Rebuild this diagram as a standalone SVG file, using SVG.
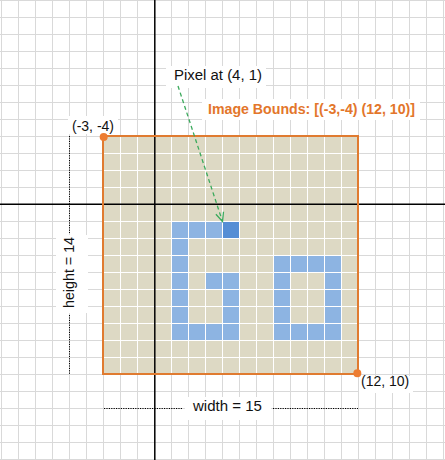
<svg xmlns="http://www.w3.org/2000/svg" width="445" height="460" viewBox="0 0 445 460">
<style>
.lbl{font-family:"Liberation Sans",Arial,sans-serif;font-size:14px;fill:#111}
.ttl{font-family:"Liberation Sans",Arial,sans-serif;font-size:14px;font-weight:bold;fill:#E3762B}
.bg{fill:#fff}
.px{fill:#8DB4E2}
.dot{stroke:#000;stroke-width:1;stroke-dasharray:1.2,1.2;fill:none}
</style>
<defs>
<pattern id="grid" patternUnits="userSpaceOnUse" x="1" y="0" width="17" height="17">
<path d="M0.5 0V17M0 0.5H17" stroke="#D9D9D9" stroke-width="1" fill="none"/>
</pattern>
<pattern id="wgrid" patternUnits="userSpaceOnUse" x="1" y="0" width="17" height="17">
<path d="M0.5 0V17M0 0.5H17" stroke="#FFFFFF" stroke-width="1" fill="none"/>
</pattern>
<marker id="arr" markerWidth="12" markerHeight="12" refX="10" refY="5" orient="auto" markerUnits="userSpaceOnUse" viewBox="0 0 12 10">
<path d="M1 1L10 5L1 9" fill="none" stroke="#3BAA5C" stroke-width="1.3"/>
</marker>
</defs>
<rect width="445" height="460" fill="#fff"/>
<rect width="445" height="460" fill="url(#grid)"/>
<g id="image-bounds">
<rect x="103" y="136" width="255" height="238" fill="#DDD9C4"/>
<g id="pixels">
<rect class="px" x="171" y="221" width="51" height="17"/>
<rect x="222" y="221" width="17" height="17" fill="#558ED5"/>
<rect class="px" x="171" y="238" width="17" height="102"/>
<rect class="px" x="205" y="272" width="34" height="17"/>
<rect class="px" x="222" y="289" width="17" height="51"/>
<rect class="px" x="188" y="323" width="34" height="17"/>
<rect class="px" x="273" y="255" width="68" height="17"/>
<rect class="px" x="273" y="323" width="68" height="17"/>
<rect class="px" x="273" y="272" width="17" height="51"/>
<rect class="px" x="324" y="272" width="17" height="51"/>
</g>
<rect x="103" y="136" width="255" height="238" fill="url(#wgrid)"/>
</g>
<g id="axes">
<line x1="154.8" y1="0" x2="154.8" y2="460" stroke="#000" stroke-width="1.5"/>
<line x1="0" y1="204.3" x2="445" y2="204.3" stroke="#000" stroke-width="1.5"/>
</g>
<rect x="103" y="136" width="255" height="238" fill="none" stroke="#E07B30" stroke-width="2"/>
<g id="labels-bg">
<rect class="bg" x="166" y="66" width="100" height="22"/>
<rect class="bg" x="202" y="99" width="218" height="21"/>
<rect class="bg" x="68" y="116" width="50" height="18"/>
<rect class="bg" x="359" y="376" width="54" height="17"/>
<rect class="bg" x="56" y="235" width="32" height="78"/>
<rect class="bg" x="185" y="397" width="86" height="23"/>
</g>
<g id="connectors">
<path class="dot" d="M69.5 136V233M69.5 315V374"/>
<path class="dot" d="M104 408.5H182M273 408.5H358"/>
<path d="M178 86L222.5 221.5" fill="none" stroke="#3BAA5C" stroke-width="1.3" stroke-dasharray="4,3" marker-end="url(#arr)"/>
</g>
<g id="corner-tl">
<circle cx="103.7" cy="137" r="4" fill="#ED7D31"/>
<text class="lbl" x="72" y="131">(-3, -4)</text>
</g>
<g id="corner-br">
<circle cx="357.3" cy="373.3" r="4" fill="#ED7D31"/>
<text class="lbl" x="361" y="386">(12, 10)</text>
</g>
<g id="pixel-label">
<text class="lbl" x="174" y="80" textLength="88" lengthAdjust="spacingAndGlyphs">Pixel at (4, 1)</text>
</g>
<g id="bounds-label">
<text class="ttl" x="208" y="114" textLength="207" lengthAdjust="spacingAndGlyphs">Image Bounds: [(-3,-4) (12, 10)]</text>
</g>
<g id="height-label">
<text class="lbl" transform="translate(73.5,308) rotate(-90)" x="0" y="0" textLength="71" lengthAdjust="spacingAndGlyphs">height = 14</text>
</g>
<g id="width-label">
<text class="lbl" x="193" y="411" textLength="69" lengthAdjust="spacingAndGlyphs">width = 15</text>
</g>
</svg>
